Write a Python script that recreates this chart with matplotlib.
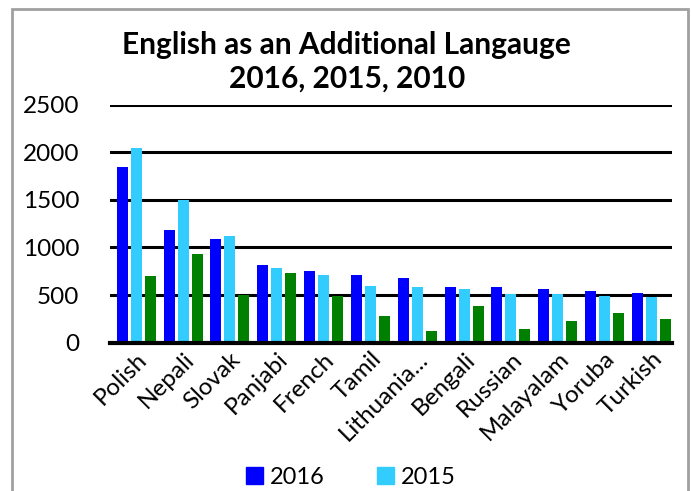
import matplotlib
matplotlib.use("Agg")
import matplotlib.pyplot as plt
import numpy as np
from matplotlib.patches import Rectangle, Patch

plt.rcParams['font.family'] = ['Lato', 'DejaVu Sans']

languages = ["Polish", "Nepali", "Slovak", "Panjabi", "French", "Tamil",
             "Lithuania...", "Bengali", "Russian", "Malayalam", "Yoruba", "Turkish"]
y2016 = [1845, 1183, 1089, 816, 753, 711, 678, 585, 585, 563, 543, 522]
y2015 = [2045, 1500, 1120, 785, 711, 595, 585, 563, 510, 510, 490, 480]
y2010 = [700, 932, 500, 732, 494, 280, 123, 384, 140, 225, 310, 245]
series_labels = ["2016", "2015", "2010"]
colors = ["#0000FF", "#33CCFF", "#008000"]
title = "English as an Additional Langauge\n2016, 2015, 2010"
yticks = [0, 500, 1000, 1500, 2000, 2500]

W, H = 691, 491
fig = plt.figure(figsize=(W / 100, H / 100), dpi=100)
ax = fig.add_axes([110 / W, 1 - 342.7 / H, (672 - 110) / W, (342.7 - 104.7) / H])

x = np.arange(len(languages))
bw = 0.235
for i, (vals, c) in enumerate(zip([y2016, y2015, y2010], colors)):
    ax.bar(x + (i - 1) * 0.3, vals, width=bw, color=c, zorder=3, label=series_labels[i])

ax.set_xlim(-0.56, len(languages) - 0.56)
ax.set_ylim(0, 2500)
ax.set_yticks(yticks)
ax.set_yticklabels([str(t) for t in yticks], fontsize=17.5)
ax.yaxis.grid(True, color="black", linewidth=2.2, zorder=1)
ax.set_axisbelow(True)
for s in ["left", "right", "top"]:
    ax.spines[s].set_visible(False)
ax.spines["bottom"].set_linewidth(3)
ax.spines["bottom"].set_zorder(4)
ax.tick_params(axis="y", length=0, pad=22)
ax.tick_params(axis="x", length=0, pad=4)
ax.set_xticks(x)
ax.set_xticklabels(languages, rotation=45, ha="right", rotation_mode="anchor", fontsize=17.5)

fig.text(0.502, 1 - 62 / H, title, ha="center", va="center", fontsize=21.5,
         fontweight="bold", linespacing=1.25)

handles = [Patch(color=colors[0]), Patch(color=colors[1])]
fig.legend(handles, series_labels[:2], loc="center left",
           bbox_to_anchor=(246 / W, 1 - 477 / H), ncol=2, frameon=False,
           fontsize=17, handlelength=0.72, handleheight=0.72, handletextpad=0.3,
           columnspacing=2.2, borderaxespad=0, borderpad=0)

fig.add_artist(Rectangle((12 / W, -0.05), (688 - 12) / W, 1.05 - 9 / H,
                         transform=fig.transFigure, fill=False,
                         edgecolor="#A0A0A0", linewidth=2, clip_on=False))

fig.savefig("out.png", dpi=100)
